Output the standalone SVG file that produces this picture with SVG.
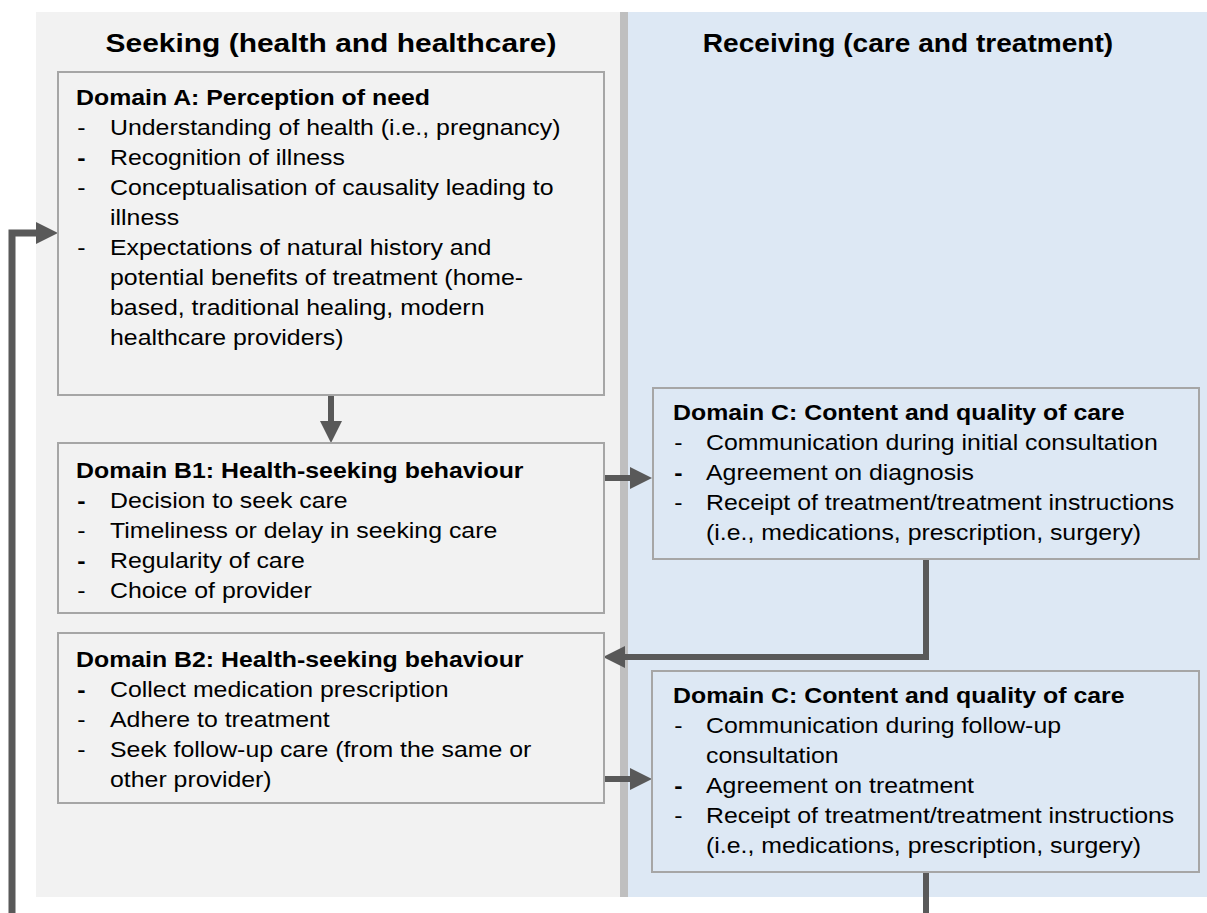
<svg xmlns="http://www.w3.org/2000/svg" width="1207" height="913" viewBox="0 0 1207 913">
<defs>
<style>
text{font-family:"Liberation Sans",Arial,sans-serif;fill:#000}
.t{font-size:22px;font-weight:bold}
.i{font-size:22px}
.b{font-weight:bold}
.h{font-size:26.5px;font-weight:bold;text-anchor:middle}
.box{stroke:#a6a6a6;stroke-width:2}
.conn{fill:none;stroke:#595959;stroke-width:6}
</style>
<marker id="ah" markerUnits="userSpaceOnUse" markerWidth="22" markerHeight="22" refX="0" refY="11" orient="auto" viewBox="0 0 22 22">
<path d="M0,0 L22,11 L0,22 z" fill="#595959"/>
</marker>
</defs>
<rect width="1207" height="913" fill="#ffffff"/>
<g id="panels">
<rect x="36" y="12" width="584" height="885" fill="#f2f2f2"/>
<rect x="628" y="12" width="579" height="885" fill="#dde8f4"/>
<rect x="620" y="12" width="8" height="885" fill="#bfbfbf"/>
<g transform="translate(331 0) scale(1.13 1)"><text class="h" x="0" y="52">Seeking (health and healthcare)</text></g>
<g transform="translate(908 0) scale(1.06 1)"><text class="h" x="0" y="52">Receiving (care and treatment)</text></g>
</g>
<g id="connectors">
<path class="conn" d="M12,913 L12,233 L36,233" marker-end="url(#ah)" style="stroke-width:7"/>
<path class="conn" d="M331,395 L331,421" marker-end="url(#ah)"/>
<path class="conn" d="M604,478 L630,478" marker-end="url(#ah)"/>
<path class="conn" d="M926,559 L926,657 L625,657" marker-end="url(#ah)"/>
<path class="conn" d="M604,779 L630,779" marker-end="url(#ah)"/>
<path class="conn" d="M926,872 L926,913"/>
</g>
<g id="nodeA">
<rect class="box" x="58" y="72" width="546" height="323" fill="#f2f2f2"/>
<g transform="translate(76 0) scale(1.13 1)">
<text class="t" x="0" y="105">Domain A: Perception of need</text>
<text class="i" x="1" y="135">-</text><text class="i" x="30.1" y="135">Understanding of health (i.e., pregnancy)</text>
<text class="i b" x="1" y="165">-</text><text class="i" x="30.1" y="165">Recognition of illness</text>
<text class="i" x="1" y="195">-</text><text class="i" x="30.1" y="195">Conceptualisation of causality leading to</text>
<text class="i" x="30.1" y="225">illness</text>
<text class="i" x="1" y="255">-</text><text class="i" x="30.1" y="255">Expectations of natural history and</text>
<text class="i" x="30.1" y="285">potential benefits of treatment (home-</text>
<text class="i" x="30.1" y="315">based, traditional healing, modern</text>
<text class="i" x="30.1" y="345">healthcare providers)</text>
</g>
</g>
<g id="nodeB1">
<rect class="box" x="58" y="443" width="546" height="170" fill="#f2f2f2"/>
<g transform="translate(76 0) scale(1.13 1)">
<text class="t" x="0" y="478">Domain B1: Health-seeking behaviour</text>
<text class="i b" x="1" y="508">-</text><text class="i" x="30.1" y="508">Decision to seek care</text>
<text class="i" x="1" y="538">-</text><text class="i" x="30.1" y="538">Timeliness or delay in seeking care</text>
<text class="i b" x="1" y="568">-</text><text class="i" x="30.1" y="568">Regularity of care</text>
<text class="i" x="1" y="598">-</text><text class="i" x="30.1" y="598">Choice of provider</text>
</g>
</g>
<g id="nodeB2">
<rect class="box" x="58" y="633" width="546" height="170" fill="#f2f2f2"/>
<g transform="translate(76 0) scale(1.13 1)">
<text class="t" x="0" y="667">Domain B2: Health-seeking behaviour</text>
<text class="i b" x="1" y="697">-</text><text class="i" x="30.1" y="697">Collect medication prescription</text>
<text class="i" x="1" y="727">-</text><text class="i" x="30.1" y="727">Adhere to treatment</text>
<text class="i" x="1" y="757">-</text><text class="i" x="30.1" y="757">Seek follow-up care (from the same or</text>
<text class="i" x="30.1" y="787">other provider)</text>
</g>
</g>
<g id="nodeC1">
<rect class="box" x="653" y="388" width="546" height="171" fill="#dde8f4"/>
<g transform="translate(673 0) scale(1.13 1)">
<text class="t" x="0" y="420">Domain C: Content and quality of care</text>
<text class="i" x="1" y="450">-</text><text class="i" x="29.2" y="450">Communication during initial consultation</text>
<text class="i b" x="1" y="480">-</text><text class="i" x="29.2" y="480">Agreement on diagnosis</text>
<text class="i" x="1" y="510">-</text><text class="i" x="29.2" y="510">Receipt of treatment/treatment instructions</text>
<text class="i" x="29.2" y="540">(i.e., medications, prescription, surgery)</text>
</g>
</g>
<g id="nodeC2">
<rect class="box" x="652" y="671" width="547" height="201" fill="#dde8f4"/>
<g transform="translate(673 0) scale(1.13 1)">
<text class="t" x="0" y="703">Domain C: Content and quality of care</text>
<text class="i" x="1" y="733">-</text><text class="i" x="29.2" y="733">Communication during follow-up</text>
<text class="i" x="29.2" y="763">consultation</text>
<text class="i b" x="1" y="793">-</text><text class="i" x="29.2" y="793">Agreement on treatment</text>
<text class="i" x="1" y="823">-</text><text class="i" x="29.2" y="823">Receipt of treatment/treatment instructions</text>
<text class="i" x="29.2" y="853">(i.e., medications, prescription, surgery)</text>
</g>
</g>
</svg>
